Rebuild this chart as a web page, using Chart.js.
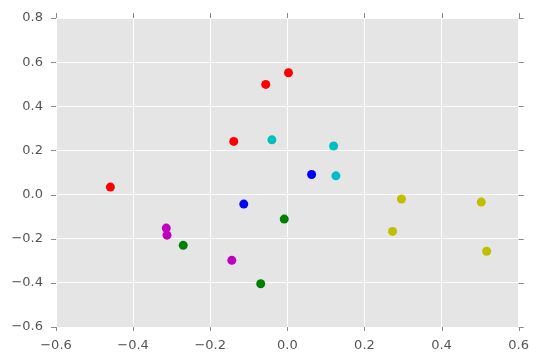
<!DOCTYPE html>
<html>
<head>
<meta charset="utf-8">
<script src="https://cdn.jsdelivr.net/npm/chart.js@4"></script>
<style>
  body { margin: 0; background: #fff; }
  #wrap { width: 540px; height: 362px; }
</style>
</head>
<body>
<div id="wrap"><canvas id="chart" width="540" height="362"></canvas></div>
<script>
// points per colour group
const redPts = [[-0.459, 0.034], [-0.139, 0.241], [-0.056, 0.499], [0.003, 0.552]];
const cyanPts = [[-0.040, 0.248], [0.120, 0.220], [0.126, 0.085]];
const bluePts = [[0.063, 0.091], [-0.113, -0.043]];
const magentaPts = [[-0.314, -0.152], [-0.312, -0.184], [-0.144, -0.298]];
const greenPts = [[-0.270, -0.230], [-0.069, -0.404], [-0.008, -0.111]];
const yellowPts = [[0.296, -0.020], [0.273, -0.167], [0.503, -0.034], [0.517, -0.257]];

const xTicks = [-0.6, -0.4, -0.2, 0.0, 0.2, 0.4, 0.6];
const yTicks = [-0.6, -0.4, -0.2, 0.0, 0.2, 0.4, 0.6, 0.8];

const groups = [
  { pts: redPts, color: "#ff0000" },
  { pts: cyanPts, color: "#00bfbf" },
  { pts: bluePts, color: "#0000ff" },
  { pts: magentaPts, color: "#bf00bf" },
  { pts: greenPts, color: "#008000" },
  { pts: yellowPts, color: "#bfbf00" },
];

function fmt(v) {
  if (Math.abs(v) < 1e-9) v = 0;
  return v.toFixed(1).replace("-", "\u2212");
}

// grey panel behind the plot, plus small outside tick marks on all four sides
const panel = {
  id: "panel",
  beforeDraw(chart) {
    const { ctx, chartArea: a } = chart;
    ctx.save();
    ctx.fillStyle = "#e5e5e5";
    ctx.fillRect(a.left, a.top, a.right - a.left, a.bottom - a.top);
    ctx.restore();
  },
  afterDraw(chart) {
    const { ctx, chartArea: a, scales } = chart;
    ctx.save();
    ctx.strokeStyle = "#8a8a8a";
    ctx.lineWidth = 1;
    ctx.beginPath();
    xTicks.forEach((t) => {
      const x = Math.round(scales.x.getPixelForValue(t)) + 0.5;
      ctx.moveTo(x, a.top); ctx.lineTo(x, a.top - 5);
      ctx.moveTo(x, a.bottom); ctx.lineTo(x, a.bottom + 4);
    });
    yTicks.forEach((t) => {
      const y = Math.round(scales.y.getPixelForValue(t)) + 0.5;
      ctx.moveTo(a.left, y); ctx.lineTo(a.left - 5, y);
      ctx.moveTo(a.right, y); ctx.lineTo(a.right + 5, y);
    });
    ctx.stroke();
    ctx.restore();
  },
};

new Chart(document.getElementById("chart").getContext("2d"), {
  type: "scatter",
  data: {
    datasets: groups.map((g) => ({
      data: g.pts.map((p) => ({ x: p[0], y: p[1] })),
      backgroundColor: g.color,
      borderColor: g.color,
      borderWidth: 0,
      pointRadius: 4.5,
      pointHoverRadius: 4.5,
    })),
  },
  options: {
    responsive: false,
    animation: false,
    layout: { autoPadding: false, padding: { left: 0, right: 20, top: 18, bottom: 0 } },
    plugins: { legend: { display: false }, tooltip: { enabled: false } },
    scales: {
      x: {
        type: "linear",
        min: -0.6,
        max: 0.6,
        afterBuildTicks: (s) => { s.ticks = xTicks.map((v) => ({ value: v })); },
        afterFit: (s) => { s.height = 35; },
        border: { display: false },
        grid: { color: "#ffffff", lineWidth: 1, drawTicks: false },
        ticks: {
          padding: 11,
          color: "#555555",
          font: { family: "DejaVu Sans", size: 13 },
          maxRotation: 0,
          callback: (v) => fmt(v),
        },
      },
      y: {
        type: "linear",
        min: -0.6,
        max: 0.8,
        afterBuildTicks: (s) => { s.ticks = yTicks.map((v) => ({ value: v })); },
        afterFit: (s) => { s.width = 56; },
        border: { display: false },
        grid: { color: "#ffffff", lineWidth: 1, drawTicks: false },
        ticks: {
          padding: 13,
          color: "#555555",
          font: { family: "DejaVu Sans", size: 13, lineHeight: 0.6 },
          callback: (v) => fmt(v),
        },
      },
    },
  },
  plugins: [panel],
});
</script>
</body>
</html>
